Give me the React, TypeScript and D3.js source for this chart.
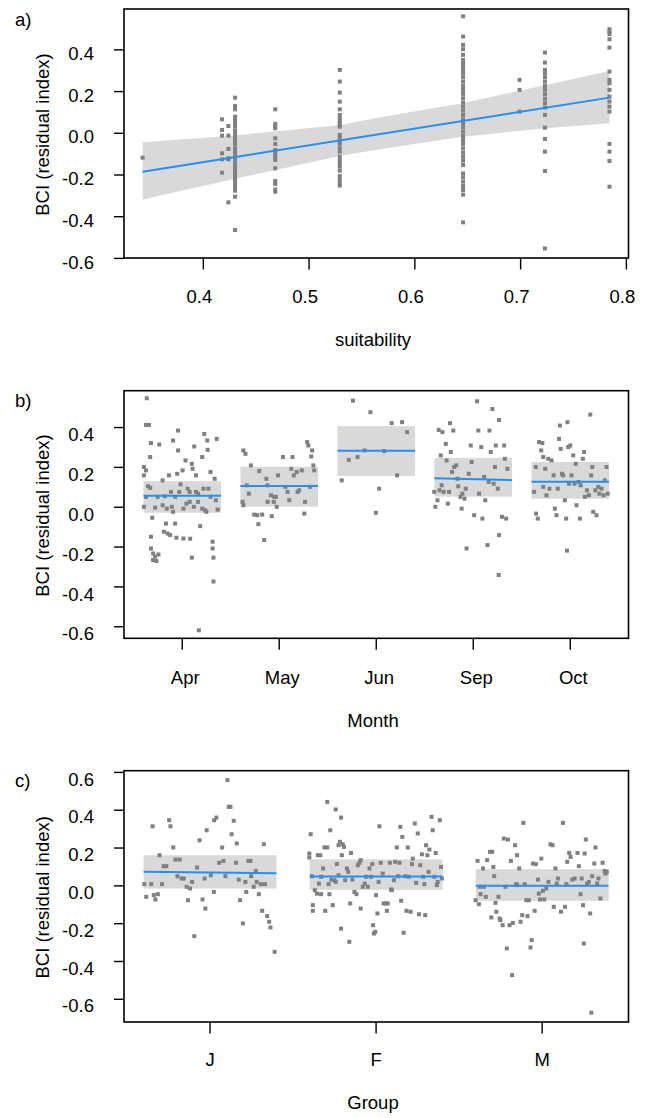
import React from "react";
import * as d3 from "d3";

// ---------- Panel a: suitability (continuous) ----------
const suitLevels = [0.3426, 0.4177, 0.4237, 0.43, 0.468, 0.529, 0.6456, 0.699, 0.723, 0.784];
const suitBCI: number[][] = [
  [-0.117],
  [0.067, 0.016, -0.011, -0.096, -0.125, -0.189],
  [0.035, -0.011, -0.075, -0.12, -0.125, -0.331],
  [0.171, 0.131, 0.115, 0.08, 0.064, 0.048, 0.032, 0.013, 0, -0.016, -0.032, -0.051, -0.072, -0.088, -0.104, -0.125, -0.144, -0.16, -0.176, -0.192, -0.208, -0.224, -0.243, -0.259, -0.275, -0.304, -0.464],
  [0.115, 0.045, 0.032, 0.024, -0.024, -0.051, -0.08, -0.099, -0.112, -0.128, -0.168, -0.229, -0.243, -0.269, -0.28],
  [0.304, 0.248, 0.195, 0.152, 0.115, 0.088, 0.072, 0.056, 0.043, 0.032, -0.008, -0.024, -0.04, -0.051, -0.072, -0.088, -0.112, -0.128, -0.144, -0.16, -0.179, -0.205, -0.224, -0.24, -0.251],
  [0.561, 0.464, 0.424, 0.403, 0.376, 0.352, 0.336, 0.32, 0.304, 0.288, 0.269, 0.248, 0.227, 0.208, 0.189, 0.168, 0.147, 0.128, 0.109, 0.088, 0.067, 0.048, 0.029, 0.008, -0.013, -0.032, -0.051, -0.072, -0.093, -0.112, -0.131, -0.152, -0.192, -0.211, -0.232, -0.253, -0.272, -0.294, -0.427],
  [0.256, 0.208, 0.104],
  [0.387, 0.339, 0.304, 0.288, 0.269, 0.248, 0.227, 0.208, 0.187, 0.165, 0.144, 0.123, 0.088, 0.027, -0.027, -0.088, -0.181, -0.552],
  [0.499, 0.488, 0.476, 0.451, 0.411, 0.296, 0.256, 0.24, 0.208, 0.176, 0.152, 0.128, 0.104, -0.051, -0.088, -0.133, -0.256],
];
const fitSuit = [0.3426, 0.784];
const fitSuitBCI = [-0.184, 0.171];
const bandSuit = [0.3426, 0.43, 0.53, 0.567, 0.645, 0.724, 0.784];
const bandSuitLo = [-0.317, -0.218, -0.108, -0.076, -0.016, 0.024, 0.048];
const bandSuitHi = [-0.043, -0.01, 0.04, 0.077, 0.144, 0.232, 0.299];
const suitTicks = [0.4, 0.5, 0.6, 0.7, 0.8];
const yTicksAB = [-0.6, -0.4, -0.2, 0, 0.2, 0.4];
const yTicksC = [-0.6, -0.4, -0.2, 0, 0.2, 0.4, 0.6];

// ---------- Panel b: Month ----------
const months = ["Apr", "May", "Jun", "Sep", "Oct"];
const monthFitStart = [0.058, 0.106, 0.284, 0.146, 0.128];
const monthFitEnd = [0.058, 0.106, 0.284, 0.136, 0.128];
const monthLo = [-0.028, 0.003, 0.157, 0.053, 0.043];
const monthHi = [0.131, 0.203, 0.407, 0.248, 0.227];
// [jitter offset (category units), BCI]
const aprPoints: number[][] = [
  [-0.365, 0.547], [-0.373, 0.413], [-0.343, 0.413], [-0.395, 0.202], [-0.373, 0.185], [-0.395, 0.16], [-0.33, 0.252],
  [-0.322, 0.322], [-0.236, 0.315], [-0.352, 0.105], [-0.33, 0.097], [-0.373, 0.052], [-0.279, -0.002], [-0.309, -0.053],
  [-0.322, -0.148], [-0.322, -0.207], [-0.3, -0.232], [-0.279, -0.248], [-0.266, -0.27], [-0.245, -0.237], [-0.3, -0.265],
  [-0.202, 0.135], [-0.202, 0.01], [-0.167, -0.082], [-0.189, -0.123], [-0.15, -0.132], [-0.124, -0.14], [-0.137, 0.16],
  [-0.094, 0.335], [-0.043, 0.385], [-0.043, 0.285], [-0.116, 0.077], [-0.073, 0.052], [-0.094, -0.023], [-0.073, -0.082],
  [-0.06, -0.153], [-0.03, 0.077], [-0.017, 0.115], [0.004, 0.185], [0.013, -0.157], [0.034, 0.235], [0.043, 0.018],
  [0.056, 0.093], [0.077, 0.027], [0.082, -0.158], [0.099, 0.218], [0.107, 0.193], [0.124, 0.305], [0.142, 0.16],
  [0.142, 0.077], [0.163, 0.068], [0.163, 0.027], [0.172, -0.618], [0.185, -0.095], [0.206, 0.252], [0.227, 0.368],
  [0.219, 0.093], [0.236, -0.015], [0.258, 0.335], [0.262, 0.288], [0.292, 0.177], [0.292, 0.052], [0.313, -0.173],
  [0.313, -0.207], [0.322, -0.253], [0.322, -0.373], [0.335, 0.143], [0.348, 0.035], [0.356, 0.343], [0.365, -0.012],
  [0.099, -0.253], [-0.395, 0.002], [-0.253, 0.052], [-0.18, 0.055], [-0.159, -0.007], [-0.107, 0.002], [0.013, -0.007],
  [0.077, 0.077], [0.206, -0.007], [0.249, -0.023], [0.27, 0.093], [0.12, 0.002], [-0.052, 0.168],
];
const mayPoints: number[][] = [
  [-0.369, 0.285], [-0.348, 0.268], [-0.292, 0.21], [-0.335, 0.11], [-0.313, 0.068], [-0.378, 0.027], [-0.369, 0.01],
  [-0.258, -0.037], [-0.227, -0.04], [-0.176, -0.037], [-0.215, -0.085], [-0.155, -0.165], [-0.12, 0.11], [-0.206, 0.182],
  [-0.133, 0.143], [-0.086, 0.06], [-0.077, -0.045], [-0.056, 0.027], [-0.034, 0.052], [-0.026, 0.002], [-0.013, 0.16],
  [0.039, 0.252], [0.064, 0.102], [0.086, 0.077], [0.103, 0.035], [0.124, 0.193], [0.137, 0.252], [0.15, 0.16],
  [0.18, 0.177], [0.189, 0.077], [0.206, 0.085], [0.232, 0.185], [0.258, -0.032], [0.266, 0.027], [0.288, 0.327],
  [0.3, 0.31], [0.33, 0.255], [0.339, 0.285], [0.352, 0.21], [0.36, 0.185], [0.318, 0.102], [-0.12, 0.027], [-0.052, 0.052],
];
const junPoints: number[][] = [
  [-0.356, 0.135], [-0.283, 0.238], [-0.24, 0.535], [-0.193, 0.252], [-0.12, 0.285], [-0.06, 0.477], [-0.004, -0.028],
  [0.03, 0.093], [0.082, 0.282], [0.159, 0.422], [0.215, 0.16], [0.266, 0.427], [0.318, 0.377],
];
const sepPoints: number[][] = [
  [-0.391, 0.002], [-0.369, 0.035], [-0.348, 0.085], [-0.356, 0.388], [-0.335, 0.26], [-0.318, 0.377], [-0.305, 0.077],
  [-0.283, 0.318], [-0.275, 0.235], [-0.262, 0.018], [-0.24, 0.422], [-0.232, 0.277], [-0.219, 0.177], [-0.206, 0.385],
  [-0.197, 0.202], [-0.176, 0.21], [-0.163, 0.143], [-0.155, 0.105], [-0.133, 0.052], [-0.12, -0.007], [-0.112, 0.068],
  [-0.09, 0.043], [-0.077, 0.093], [-0.069, -0.207], [-0.047, 0.168], [-0.026, 0.31], [-0.017, 0.227], [0.009, -0.04],
  [0.039, 0.532], [0.052, 0.385], [0.06, 0.068], [0.082, 0.302], [0.094, -0.057], [0.112, 0.152], [0.124, 0.035],
  [0.146, -0.19], [0.159, 0.127], [0.167, 0.385], [0.18, 0.277], [0.197, 0.493], [0.21, 0.118], [0.223, 0.202],
  [0.232, 0.31], [0.253, 0.093], [0.266, 0.438], [0.266, -0.14], [0.262, -0.34], [0.296, -0.048], [0.318, 0.31],
  [0.326, 0.243], [0.339, -0.057], [0.352, 0.193], [-0.326, 0.11], [-0.403, 0.077], [-0.249, 0.077],
];
const octPoints: number[][] = [
  [-0.373, 0.077], [-0.352, -0.032], [-0.335, -0.057], [-0.322, 0.327], [-0.3, 0.285], [-0.288, 0.322], [-0.279, 0.252],
  [-0.258, 0.193], [-0.245, 0.06], [-0.227, 0.243], [-0.215, 0.093], [-0.193, 0.235], [-0.172, 0.16], [-0.159, -0.007],
  [-0.142, -0.04], [-0.129, 0.093], [-0.116, 0.343], [-0.107, 0.41], [-0.099, 0.293], [-0.086, 0.168], [-0.073, 0.16],
  [-0.056, 0.035], [-0.043, -0.057], [-0.03, 0.427], [-0.021, 0.302], [-0.013, 0.118], [0, 0.31], [0.013, 0.16],
  [0.03, 0.26], [0.043, 0.118], [0.056, 0.218], [0.064, 0.01], [0.086, 0.127], [0.099, -0.057], [0.107, 0.11],
  [0.129, 0.243], [0.142, 0.277], [0.15, 0.052], [0.172, 0.085], [0.193, 0.06], [0.206, 0.465], [0.215, 0.16],
  [0.227, 0.202], [0.236, -0.023], [0.258, 0.085], [0.27, -0.04], [0.288, 0.102], [0.3, 0.068], [0.322, 0.093],
  [0.343, 0.06], [0.356, 0.135], [0.373, 0.202], [0.386, 0.068], [-0.034, -0.218], [-0.356, 0.202], [-0.279, 0.102],
];
const monthPoints = [aprPoints, mayPoints, junPoints, sepPoints, octPoints];

// ---------- Panel c: Group ----------
const groups = ["J", "F", "M"];
const groupFitStart = [0.074, 0.05, 0.0];
const groupFitEnd = [0.067, 0.05, 0.0];
const groupLo = [-0.014, -0.021, -0.079];
const groupHi = [0.162, 0.14, 0.088];
const jPoints: number[][] = [
  [-0.396, 0.009], [-0.384, -0.058], [-0.354, 0.009], [-0.346, 0.315], [-0.339, -0.049], [-0.329, -0.072], [-0.314, -0.044],
  [-0.304, 0.162], [-0.289, 0.009], [-0.279, 0.104], [-0.263, 0.104], [-0.246, 0.347], [-0.238, 0.315], [-0.221, 0.203],
  [-0.208, 0.139], [-0.196, 0.051], [-0.183, 0.139], [-0.171, 0.039], [-0.158, 0.039], [-0.141, -0.005], [-0.133, -0.076],
  [-0.12, -0.014], [-0.108, 0.021], [-0.095, -0.266], [-0.078, 0.097], [-0.063, 0.241], [-0.045, -0.072], [-0.033, 0.039],
  [-0.028, -0.12], [-0.02, 0.294], [0.005, 0.056], [0.023, -0.032], [0.025, 0.347], [0.038, 0.361], [0.055, 0.122],
  [0.073, 0.203], [0.08, 0.132], [0.093, 0.051], [0.105, 0.559], [0.113, 0.418], [0.123, 0.418], [0.13, 0.273],
  [0.143, 0.344], [0.156, 0.122], [0.161, 0.224], [0.173, 0.033], [0.181, -0.076], [0.198, -0.199], [0.213, 0.021],
  [0.218, -0.032], [0.231, 0.132], [0.243, 0.132], [0.248, 0.051], [0.263, -0.005], [0.276, 0.079], [0.281, 0.021],
  [0.294, -0.044], [0.306, 0.009], [0.314, -0.132], [0.324, 0.22], [0.331, 0.009], [0.344, -0.16], [0.356, -0.19],
  [0.364, -0.22], [0.389, -0.349],
];
const fPoints: number[][] = [
  [-0.394, 0.273], [-0.402, 0.171], [-0.402, 0.15], [-0.386, 0.051], [-0.381, -0.102], [-0.381, -0.132], [-0.369, -0.023],
  [-0.356, -0.041], [-0.351, 0.162], [-0.344, 0.012], [-0.336, 0.162], [-0.331, -0.044], [-0.319, 0.092], [-0.311, 0.203],
  [-0.306, -0.132], [-0.294, 0.203], [-0.286, 0.009], [-0.281, -0.044], [-0.276, 0.294], [-0.269, 0.033], [-0.261, -0.102],
  [-0.251, 0.03], [-0.243, 0.021], [-0.236, 0.115], [-0.226, 0.215], [-0.218, 0.233], [-0.211, -0.226], [-0.206, 0.162],
  [-0.201, 0.22], [-0.193, 0.206], [-0.186, 0.03], [-0.176, 0.092], [-0.168, 0.074], [-0.161, -0.296], [-0.156, -0.093],
  [-0.151, 0.174], [-0.143, 0.033], [-0.13, -0.032], [-0.118, -0.044], [-0.11, 0.109], [-0.1, 0.122], [-0.093, -0.12],
  [-0.08, -0.005], [-0.068, 0.012], [-0.06, 0.048], [-0.05, -0.005], [-0.04, 0.092], [-0.03, 0.048], [-0.023, 0.115],
  [-0.018, -0.208], [-0.013, -0.252], [-0.005, -0.243], [0, -0.049], [0.008, -0.146], [0.015, 0.021], [0.02, 0.315],
  [0.028, 0.122], [0.04, 0.065], [0.045, -0.093], [0.057, -0.093], [0.065, -0.132], [0.07, -0.093], [0.083, 0.122],
  [0.09, -0.019], [0.095, -0.023], [0.108, 0.03], [0.115, 0.127], [0.125, 0.203], [0.133, 0.051], [0.141, 0.122],
  [0.146, 0.312], [0.151, -0.079], [0.158, 0.259], [0.166, -0.248], [0.176, 0.051], [0.183, -0.132], [0.191, 0.203],
  [0.196, 0.048], [0.208, -0.137], [0.216, 0.115], [0.221, 0.144], [0.233, 0.33], [0.241, 0.016], [0.251, 0.277],
  [0.258, -0.15], [0.266, 0.109], [0.276, 0.167], [0.284, 0.048], [0.291, 0.009], [0.296, -0.155], [0.301, 0.215],
  [0.309, 0.162], [0.316, 0.074], [0.321, 0.192], [0.334, 0.365], [0.341, 0.294], [0.351, 0.048], [0.359, 0.174],
  [0.366, 0.004], [0.371, 0.021], [0.384, 0.347], [0.391, 0.1], [0.396, 0.039], [-0.093, 0.136], [-0.331, 0.048],
  [-0.226, 0.056], [-0.294, 0.444], [-0.243, 0.404], [-0.211, 0.361],
];
const mPoints: number[][] = [
  [-0.401, -0.076], [-0.389, 0.132], [-0.381, -0.097], [-0.371, -0.044], [-0.356, 0.092], [-0.351, -0.005], [-0.339, -0.058],
  [-0.331, 0.136], [-0.314, 0.18], [-0.306, -0.167], [-0.301, 0.18], [-0.289, 0.051], [-0.281, -0.09], [-0.276, -0.137],
  [-0.263, -0.058], [-0.256, -0.173], [-0.251, -0.181], [-0.238, -0.208], [-0.231, 0.25], [-0.221, -0.005], [-0.213, -0.331],
  [-0.206, 0.245], [-0.196, -0.208], [-0.188, 0.132], [-0.181, -0.472], [-0.176, -0.196], [-0.163, 0.215], [-0.156, 0.009],
  [-0.151, 0.162], [-0.138, 0.092], [-0.13, -0.19], [-0.12, -0.155], [-0.113, 0.333], [-0.105, 0.009], [-0.095, -0.076],
  [-0.088, -0.16], [-0.08, -0.076], [-0.07, -0.326], [-0.063, -0.287], [-0.055, 0.118], [-0.045, -0.132], [-0.038, 0.115],
  [-0.025, 0.033], [-0.02, -0.041], [-0.013, -0.072], [-0.005, 0.144], [0.005, -0.026], [0.013, -0.072], [0.025, -0.014],
  [0.038, 0.021], [0.05, 0.22], [0.063, 0.215], [0.07, -0.111], [0.08, 0.092], [0.088, 0.012], [0.095, 0.039],
  [0.113, -0.137], [0.125, 0.333], [0.138, -0.111], [0.146, 0.009], [0.151, 0.127], [0.163, 0.174], [0.171, 0.153],
  [0.181, 0.033], [0.196, 0.039], [0.213, 0.174], [0.221, 0.104], [0.231, -0.044], [0.238, 0.039], [0.246, -0.102],
  [0.251, -0.305], [0.256, 0.171], [0.263, 0.245], [0.271, 0.012], [0.281, 0.021], [0.289, -0.146], [0.296, -0.671],
  [0.301, 0.051], [0.314, 0.118], [0.321, 0.203], [0.331, 0.012], [0.339, 0.039], [0.351, -0.067], [0.364, 0.122],
  [0.376, 0.079], [0.381, 0.065], [0.389, 0.074], [-0.151, 0.004], [-0.376, -0.005], [-0.294, 0.1],
];
const groupPoints = [jPoints, fPoints, mPoints];

// ---------- styling ----------
const FONT = "'Liberation Sans', Arial, Helvetica, sans-serif";
const FS = 18.5;
const PT = "#808080";
const BAND = "#d9d9d9";
const BLUE = "#1e90ff";

const fmt = d3
  .formatLocale({ decimal: ".", thousands: ",", grouping: [3], currency: ["", ""], minus: "-" })
  .format(".1f");

const LEFT = 124;
const RIGHT = 628.5;

type YAxisProps = { y: d3.ScaleLinear<number, number>; ticks: number[]; labelDy: number };
function YAxis({ y, ticks, labelDy }: YAxisProps) {
  return (
    <g>
      {ticks.map((t) => (
        <g key={t}>
          <line x1={LEFT - 10} x2={LEFT} y1={y(t)} y2={y(t)} stroke="#000" strokeWidth={1.4} />
          <text x={94} y={y(t) + labelDy + 6.6} textAnchor="end" fontSize={FS} fontFamily={FONT}>
            {fmt(t)}
          </text>
        </g>
      ))}
    </g>
  );
}

function Frame({ top, bottom }: { top: number; bottom: number }) {
  return (
    <rect x={LEFT} y={top} width={RIGHT - LEFT} height={bottom - top} fill="none" stroke="#000" strokeWidth={1.6} />
  );
}

function YTitle({ cy }: { cy: number }) {
  return (
    <text
      transform={`translate(49,${cy}) rotate(-90)`}
      textAnchor="middle"
      fontSize={FS}
      fontFamily={FONT}
    >
      BCI (residual index)
    </text>
  );
}

function PanelA() {
  const top = 9;
  const bottom = 258;
  const x = d3.scaleLinear().domain([0.325, 0.802]).range([LEFT, RIGHT]);
  const y = d3.scaleLinear().domain([-0.598, 0.596]).range([bottom, top]);
  const bandData = bandSuit.map((s, i) => [s, bandSuitLo[i], bandSuitHi[i]]);
  const area = d3
    .area<number[]>()
    .x((d) => x(d[0]))
    .y0((d) => y(d[1]))
    .y1((d) => y(d[2]))(bandData);
  const line = d3
    .line<number[]>()
    .x((d) => x(d[0]))
    .y((d) => y(d[1]))(fitSuit.map((s, i) => [s, fitSuitBCI[i]]));
  return (
    <g>
      <path d={area || ""} fill={BAND} />
      {suitLevels.map((s, i) =>
        suitBCI[i].map((v, j) => (
          <rect key={`${i}-${j}`} x={x(s) - 2} y={y(v) - 2} width={4} height={4} fill={PT} />
        ))
      )}
      <path d={line || ""} fill="none" stroke={BLUE} strokeWidth={2} />
      <YAxis y={y} ticks={yTicksAB} labelDy={3.5} />
      {suitTicks.map((t) => (
        <g key={t}>
          <line x1={x(t)} x2={x(t)} y1={bottom} y2={bottom + 11.5} stroke="#000" strokeWidth={1.4} />
          <text x={x(t) - 4} y={bottom + 45.3} textAnchor="middle" fontSize={FS} fontFamily={FONT}>
            {fmt(t)}
          </text>
        </g>
      ))}
      <Frame top={top} bottom={bottom} />
      <YTitle cy={(top + bottom) / 2 + 1} />
      <text x={373} y={346} textAnchor="middle" fontSize={FS} fontFamily={FONT}>
        suitability
      </text>
      <text x={15} y={26} fontSize={FS} fontFamily={FONT}>
        a)
      </text>
    </g>
  );
}

type CatProps = {
  top: number;
  bottom: number;
  domain: [number, number];
  yDomain: [number, number];
  cats: string[];
  lo: number[];
  hi: number[];
  fitStart: number[];
  fitEnd: number[];
  points: number[][][];
  yTicks: number[];
  labelDy: number;
  xLabelDx: number;
  xLabelBase: number;
  title: string;
  titleBase: number;
  tag: string;
};

function CatPanel(p: CatProps) {
  const x = d3.scaleLinear().domain(p.domain).range([LEFT, RIGHT]);
  const y = d3.scaleLinear().domain(p.yDomain).range([p.bottom, p.top]);
  const hw = 0.4;
  return (
    <g>
      {p.cats.map((c, i) => (
        <rect
          key={c}
          x={x(i + 1 - hw)}
          y={y(p.hi[i])}
          width={x(i + 1 + hw) - x(i + 1 - hw)}
          height={y(p.lo[i]) - y(p.hi[i])}
          fill={BAND}
        />
      ))}
      {p.points.map((pts, i) =>
        pts.map((d, j) => (
          <rect key={`${i}-${j}`} x={x(i + 1 + d[0]) - 2} y={y(d[1]) - 2} width={4} height={4} fill={PT} />
        ))
      )}
      {p.cats.map((c, i) => (
        <line
          key={c}
          x1={x(i + 1 - hw)}
          x2={x(i + 1 + hw)}
          y1={y(p.fitStart[i])}
          y2={y(p.fitEnd[i])}
          stroke={BLUE}
          strokeWidth={2}
        />
      ))}
      <YAxis y={y} ticks={p.yTicks} labelDy={p.labelDy} />
      {p.cats.map((c, i) => (
        <g key={c}>
          <line x1={x(i + 1)} x2={x(i + 1)} y1={p.bottom} y2={p.bottom + 11.5} stroke="#000" strokeWidth={1.4} />
          <text x={x(i + 1) + p.xLabelDx} y={p.xLabelBase} textAnchor="middle" fontSize={FS} fontFamily={FONT}>
            {c}
          </text>
        </g>
      ))}
      <Frame top={p.top} bottom={p.bottom} />
      <YTitle cy={(p.top + p.bottom) / 2 + 1} />
      <text x={373} y={p.titleBase} textAnchor="middle" fontSize={FS} fontFamily={FONT}>
        {p.title}
      </text>
      <text x={15} y={p.top + 16.5} fontSize={FS} fontFamily={FONT}>
        {p.tag}
      </text>
    </g>
  );
}

export default function App() {
  return (
    <svg
      width={654}
      height={1118}
      viewBox="0 0 654 1118"
      style={{ position: "absolute", left: 0, top: 0, display: "block", background: "#fff" }}
    >
      <rect x={0} y={0} width={654} height={1118} fill="#fff" />
      <PanelA />
      <CatPanel
        top={390.7}
        bottom={638.3}
        domain={[0.4, 5.6]}
        yDomain={[-0.658, 0.585]}
        cats={months}
        lo={monthLo}
        hi={monthHi}
        fitStart={monthFitStart}
        fitEnd={monthFitEnd}
        points={monthPoints}
        yTicks={yTicksAB}
        labelDy={7}
        xLabelDx={3}
        xLabelBase={684.3}
        title="Month"
        titleBase={727}
        tag="b)"
      />
      <CatPanel
        top={770.7}
        bottom={1022}
        domain={[0.482, 3.52]}
        yDomain={[-0.72, 0.609]}
        cats={groups}
        lo={groupLo}
        hi={groupHi}
        fitStart={groupFitStart}
        fitEnd={groupFitEnd}
        points={groupPoints}
        yTicks={yTicksC}
        labelDy={6.5}
        xLabelDx={0}
        xLabelBase={1066}
        title="Group"
        titleBase={1109}
        tag="c)"
      />
    </svg>
  );
}
